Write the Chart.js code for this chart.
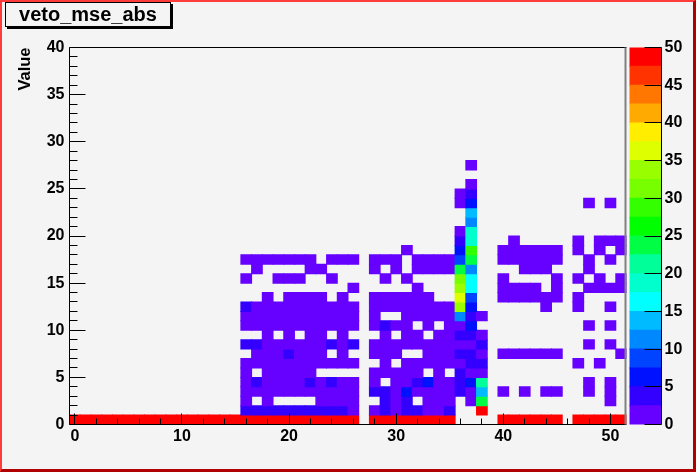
<!DOCTYPE html>
<html>
<head>
<meta charset="utf-8">
<script src="https://cdn.jsdelivr.net/npm/chart.js@4/dist/chart.umd.min.js"></script>
<style>
  html, body { margin: 0; padding: 0; background: #f4f4f4; }
  #wrap { position: relative; width: 696px; height: 472px; overflow: hidden; background: #f4f4f4; }
  #wrap canvas { position: absolute; left: 0; top: 0; }
  #histTitle {
    position: absolute; left: 5px; top: 2px; width: 164px; height: 23px;
    border: 1px solid #000; box-shadow: 2px 2px 0 #000;
    font: bold 20px "Liberation Sans", Arial, Helvetica, sans-serif;
    line-height: 23px; text-align: center; color: #000;
  }
  #border {
    position: absolute; left: 0; top: 0; right: 0; bottom: 0; pointer-events: none;
    border-style: solid; border-width: 2px 3px 3px 2px;
    border-color: #ff3c3c #b00000 #b00000 #ff3c3c;
  }
</style>
</head>
<body>
<div id="wrap">
  <canvas id="hist2d" width="696" height="472"></canvas>
  <canvas id="zAxis" width="696" height="472"></canvas>
  <div id="histTitle">veto_mse_abs</div>
  <div id="border"></div>
</div>
<script>
// bin contents, one array per y bin (y = 0..1, 1..2, ...), x bins centred on 0..51
const row0 = [60,60,60,60,60,60,60,60,60,60,
              60,60,60,60,60,60,60,60,60,60,
              60,60,60,60,60,60,60,0,60,60,
              60,60,60,60,60,60,0,0,0,0,
              60,60,60,60,60,60,0,60,60,60,
              60,60];
const row1 = [0,0,0,0,0,0,0,0,0,0,
              0,0,0,0,0,0,4,4,4,4,
              4,4,4,4,4,4,1,0,1,4,
              1,4,4,1,1,4,0,0,60,0,
              0,0,0,0,0,0,0,0,0,0,
              0,0];
const row2 = [0,0,0,0,0,0,0,0,0,0,
              0,0,0,0,0,0,1,0,1,0,
              0,0,0,1,1,1,1,0,0,4,
              1,4,0,1,1,1,0,1,24,0,
              0,0,0,0,0,0,0,0,0,0,
              1,0];
const row3 = [0,0,0,0,0,0,0,0,0,0,
              0,0,0,0,0,0,1,1,1,1,
              1,1,1,1,1,1,1,0,4,4,
              1,6,1,1,1,1,4,1,14,0,
              1,0,1,0,1,1,0,0,1,0,
              1,0];
const row4 = [0,0,0,0,0,0,0,0,0,0,
              0,0,0,0,0,0,1,4,1,1,
              1,1,4,1,4,1,1,0,1,0,
              1,1,4,6,1,1,4,6,21,0,
              0,0,0,0,0,0,0,0,1,0,
              1,0];
const row5 = [0,0,0,0,0,0,0,0,0,0,
              0,0,0,0,0,0,1,0,1,1,
              1,1,1,0,0,0,0,0,1,1,
              1,1,1,0,1,0,4,1,1,0,
              0,0,0,0,0,0,0,0,0,0,
              0,0];
const row6 = [0,0,0,0,0,0,0,0,0,0,
              0,0,0,0,0,0,1,1,1,1,
              1,1,1,1,1,1,1,0,0,1,
              0,1,1,1,1,1,1,4,4,0,
              0,0,0,0,0,0,0,1,0,1,
              0,0];
const row7 = [0,0,0,0,0,0,0,0,0,0,
              0,0,0,0,0,0,0,1,1,1,
              4,1,1,1,0,1,0,0,1,1,
              1,0,0,1,1,1,4,4,1,0,
              1,1,1,1,1,1,0,0,0,0,
              0,1];
const row8 = [0,0,0,0,0,0,0,0,0,0,
              0,0,0,0,0,0,4,4,1,1,
              1,1,1,1,4,1,4,0,1,1,
              1,1,1,1,1,1,1,1,4,0,
              0,0,0,0,0,0,0,0,1,0,
              1,0];
const row9 = [0,0,0,0,0,0,0,0,0,0,
              0,0,0,0,0,0,0,0,1,0,
              1,0,1,1,0,1,0,0,0,1,
              0,1,1,0,1,1,4,4,1,0,
              0,0,0,0,0,0,0,0,0,0,
              0,0];
const row10 = [0,0,0,0,0,0,0,0,0,0,
               0,0,0,0,0,0,1,1,1,1,
               1,1,1,1,1,1,1,0,1,4,
               1,1,0,1,0,1,1,6,0,0,
               0,0,0,0,0,0,0,0,1,0,
               1,0];
const row11 = [0,0,0,0,0,0,0,0,0,0,
               0,0,0,0,0,0,1,1,1,1,
               1,1,1,1,1,1,1,0,1,0,
               0,1,1,1,1,1,11,4,1,0,
               0,0,0,0,0,0,0,0,0,0,
               0,0];
const row12 = [0,0,0,0,0,0,0,0,0,0,
               0,0,0,0,0,0,4,1,1,1,
               1,1,1,1,1,1,1,0,1,1,
               1,1,1,1,1,1,34,6,0,0,
               0,0,0,0,1,0,0,1,0,0,
               1,0];
const row13 = [0,0,0,0,0,0,0,0,0,0,
               0,0,0,0,0,0,0,0,1,0,
               1,1,1,1,0,1,0,0,1,1,
               1,1,1,1,0,0,36,9,0,0,
               1,1,1,1,1,1,0,1,0,0,
               0,0];
const row14 = [0,0,0,0,0,0,0,0,0,0,
               0,0,0,0,0,0,0,0,0,0,
               0,0,0,0,0,0,1,0,0,0,
               0,0,1,0,0,0,34,16,0,0,
               1,1,1,1,0,1,0,0,1,1,
               1,1];
const row15 = [0,0,0,0,0,0,0,0,0,0,
               0,0,0,0,0,0,1,0,0,1,
               1,1,0,0,1,0,0,0,0,1,
               0,1,0,0,0,0,31,16,0,0,
               1,0,0,0,0,1,0,1,0,1,
               0,1];
const row16 = [0,0,0,0,0,0,0,0,0,0,
               0,0,0,0,0,0,0,1,0,0,
               0,0,1,1,0,0,0,0,1,0,
               1,0,1,1,1,1,23,11,0,0,
               0,0,1,1,1,0,0,0,1,0,
               0,0];
const row17 = [0,0,0,0,0,0,0,0,0,0,
               0,0,0,0,0,0,1,1,1,1,
               1,1,1,0,1,1,1,0,1,1,
               1,0,1,1,1,1,9,24,0,0,
               1,1,1,1,1,1,0,0,1,0,
               1,0];
const row18 = [0,0,0,0,0,0,0,0,0,0,
               0,0,0,0,0,0,0,0,0,0,
               0,0,0,0,0,0,0,0,0,0,
               0,1,0,0,0,0,6,29,0,0,
               1,1,1,1,1,1,0,1,0,1,
               0,1];
const row19 = [0,0,0,0,0,0,0,0,0,0,
               0,0,0,0,0,0,0,0,0,0,
               0,0,0,0,0,0,0,0,0,0,
               0,0,0,0,0,0,4,19,0,0,
               0,1,0,0,0,0,0,1,0,1,
               1,1];
const row20 = [0,0,0,0,0,0,0,0,0,0,
               0,0,0,0,0,0,0,0,0,0,
               0,0,0,0,0,0,0,0,0,0,
               0,0,0,0,0,0,1,19,0,0,
               0,0,0,0,0,0,0,0,0,0,
               0,0];
const row21 = [0,0,0,0,0,0,0,0,0,0,
               0,0,0,0,0,0,0,0,0,0,
               0,0,0,0,0,0,0,0,0,0,
               0,0,0,0,0,0,0,11,0,0,
               0,0,0,0,0,0,0,0,0,0,
               0,0];
const row22 = [0,0,0,0,0,0,0,0,0,0,
               0,0,0,0,0,0,0,0,0,0,
               0,0,0,0,0,0,0,0,0,0,
               0,0,0,0,0,0,0,14,0,0,
               0,0,0,0,0,0,0,0,0,0,
               0,0];
const row23 = [0,0,0,0,0,0,0,0,0,0,
               0,0,0,0,0,0,0,0,0,0,
               0,0,0,0,0,0,0,0,0,0,
               0,0,0,0,0,0,1,6,0,0,
               0,0,0,0,0,0,0,0,1,0,
               1,0];
const row24 = [0,0,0,0,0,0,0,0,0,0,
               0,0,0,0,0,0,0,0,0,0,
               0,0,0,0,0,0,0,0,0,0,
               0,0,0,0,0,0,1,4,0,0,
               0,0,0,0,0,0,0,0,0,0,
               0,0];
const row25 = [0,0,0,0,0,0,0,0,0,0,
               0,0,0,0,0,0,0,0,0,0,
               0,0,0,0,0,0,0,0,0,0,
               0,0,0,0,0,0,0,1,0,0,
               0,0,0,0,0,0,0,0,0,0,
               0,0];
const row26 = [0,0,0,0,0,0,0,0,0,0,
               0,0,0,0,0,0,0,0,0,0,
               0,0,0,0,0,0,0,0,0,0,
               0,0,0,0,0,0,0,0,0,0,
               0,0,0,0,0,0,0,0,0,0,
               0,0];
const row27 = [0,0,0,0,0,0,0,0,0,0,
               0,0,0,0,0,0,0,0,0,0,
               0,0,0,0,0,0,0,0,0,0,
               0,0,0,0,0,0,0,1,0,0,
               0,0,0,0,0,0,0,0,0,0,
               0,0];

const cellRows = [row0, row1, row2, row3, row4, row5, row6, row7, row8, row9,
                  row10, row11, row12, row13, row14, row15, row16, row17, row18, row19,
                  row20, row21, row22, row23, row24, row25, row26, row27];

const xTickValues = [0, 10, 20, 30, 40, 50];
const yTickValues = [0, 5, 10, 15, 20, 25, 30, 35, 40];
const zTickValues = [0, 5, 10, 15, 20, 25, 30, 35, 40, 45, 50];

// colour palette, bottom (0) to top (50)
const paletteColors = ['#6600ff', '#3300ff', '#0011ff', '#0044ff', '#0088ff',
                       '#00bbff', '#00ffff', '#00ffcc', '#00ff99', '#00ff44',
                       '#00ff00', '#33ff00', '#77ff00', '#99ff00', '#ddff00',
                       '#ffee00', '#ffaa00', '#ff7700', '#ff3300', '#ff0000'];
const zMin = 0, zMax = 50;

const FONT = '"Liberation Sans", Arial, Helvetica, sans-serif';

function bandColor(v) {
  let i = Math.floor((v - zMin) / (zMax - zMin) * paletteColors.length);
  if (i > paletteColors.length - 1) i = paletteColors.length - 1;
  if (i < 0) i = 0;
  return paletteColors[i];
}

var cells = [];
cellRows.forEach(function (row, j) {
  row.forEach(function (v, k) {
    if (v > 0) cells.push({x: k, y: [j, j + 1], v: v});
  });
});

// ticks drawn inside the frame, ROOT style
const frameTicks = {
  id: 'frameTicks',
  afterDatasetsDraw(chart) {
    const {ctx, chartArea: a, scales: {x, y}} = chart;
    ctx.save();
    ctx.strokeStyle = '#000';
    ctx.lineWidth = 1;
    ctx.beginPath();
    for (let v = 0; v <= x.max; v += 2) {
      const p = Math.floor(x.getPixelForValue(v)) + 0.5;
      const len = xTickValues.includes(v) ? 11 : 6;
      ctx.moveTo(p, a.bottom);
      ctx.lineTo(p, a.bottom - len);
    }
    for (let v = 0; v <= y.max; v += 1) {
      const p = Math.floor(y.getPixelForValue(v)) + 0.5;
      const len = yTickValues.includes(v) ? 16 : 8;
      ctx.moveTo(a.left, p);
      ctx.lineTo(a.left + len, p);
    }
    ctx.moveTo(a.left, a.top);
    ctx.lineTo(a.right, a.top);
    ctx.moveTo(a.left, a.top);
    ctx.lineTo(a.left, a.bottom);
    ctx.lineTo(a.right, a.bottom);
    ctx.stroke();
    ctx.strokeStyle = '#808080';
    ctx.lineWidth = 2;
    ctx.beginPath();
    ctx.moveTo(a.right - 1, a.top);
    ctx.lineTo(a.right - 1, a.bottom);
    ctx.stroke();
    ctx.restore();
  }
};

const mainChart = new Chart("hist2d", {
  type: "bar",
  data: {
    datasets: [{
      data: cells,
      backgroundColor: ctx => bandColor(ctx.raw.v),
      borderWidth: 0,
      barPercentage: 1,
      categoryPercentage: 1,
      inflateAmount: 0.5
    }]
  },
  options: {
    responsive: false,
    animation: false,
    layout: { padding: { left: 0, top: 47.5, right: 69.5, bottom: 0 } },
    plugins: { legend: { display: false }, tooltip: { enabled: false } },
    scales: {
      x: {
        type: 'linear', min: -0.5, max: 51.5, offset: false,
        afterFit: s => { s.height = 47.5; },
        afterBuildTicks: s => { s.ticks = xTickValues.map(v => ({value: v})); },
        grid: { display: false, drawTicks: false },
        border: { display: false },
        ticks: { color: '#000', padding: 2, autoSkip: false, maxRotation: 0,
                 font: { family: FONT, size: 16, weight: 'bold' } }
      },
      y: {
        type: 'linear', min: 0, max: 40,
        afterFit: s => { s.width = 69.5; },
        afterBuildTicks: s => { s.ticks = yTickValues.map(v => ({value: v})); },
        grid: { display: false, drawTicks: false },
        border: { display: false },
        ticks: { color: '#000', padding: 5, autoSkip: false,
                 font: { family: FONT, size: 16, weight: 'bold' } },
        title: { display: true, text: 'Value', align: 'end', color: '#000',
                 padding: { top: 15.4, bottom: 0 },
                 font: { family: FONT, size: 16.5, weight: 'bold' } }
      }
    }
  },
  plugins: [frameTicks]
});

// colour scale on the right
const zTickMarks = {
  id: 'zTickMarks',
  afterDatasetsDraw(chart) {
    const {ctx, chartArea: a, scales: {y}} = chart;
    ctx.save();
    ctx.strokeStyle = '#000';
    ctx.lineWidth = 1;
    ctx.beginPath();
    zTickValues.forEach(v => {
      const p = Math.floor(y.getPixelForValue(v)) + 0.5;
      ctx.moveTo(a.right, p);
      ctx.lineTo(a.right - 17, p);
    });
    ctx.moveTo(a.right, a.top);
    ctx.lineTo(a.right, a.bottom);
    ctx.stroke();
    ctx.restore();
  }
};

const zEdges = paletteColors.map((c, i) => zMin + i * (zMax - zMin) / paletteColors.length).concat([zMax]);

const zChart = new Chart("zAxis", {
  type: "bar",
  data: {
    labels: ['z'],
    datasets: paletteColors.map((c, i) => ({
      data: [[zEdges[i], zEdges[i + 1]]],
      backgroundColor: c,
      borderWidth: 0,
      grouped: false,
      barPercentage: 1,
      categoryPercentage: 1,
      inflateAmount: 0.5
    }))
  },
  options: {
    responsive: false,
    animation: false,
    layout: { padding: { left: 629.5, top: 47.5, right: 0, bottom: 47.5 } },
    plugins: { legend: { display: false }, tooltip: { enabled: false } },
    scales: {
      x: { display: false },
      y: {
        position: 'right', min: zMin, max: zMax,
        afterFit: s => { s.width = 34.5; },
        afterBuildTicks: s => { s.ticks = zTickValues.map(v => ({value: v})); },
        grid: { display: false, drawTicks: false },
        border: { display: false },
        ticks: { color: '#000', padding: 3, autoSkip: false,
                 font: { family: FONT, size: 16, weight: 'bold' } }
      }
    }
  },
  plugins: [zTickMarks]
});
</script>
</body>
</html>
